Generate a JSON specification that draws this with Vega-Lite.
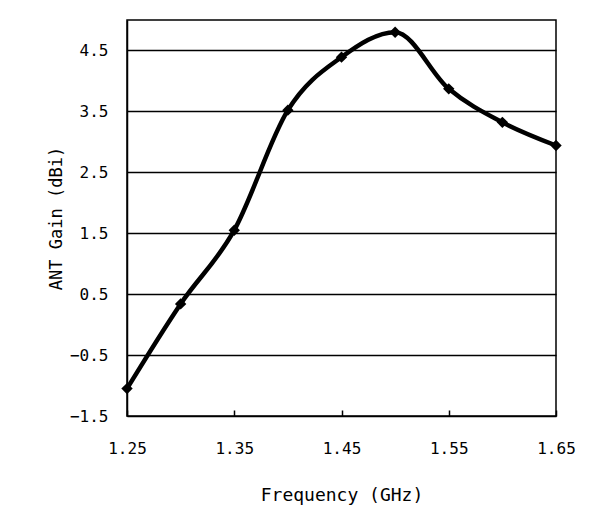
{
  "$schema": "https://vega.github.io/schema/vega-lite/v6.json",
  "autosize": "none",
  "width": 429,
  "height": 396,
  "padding": {"left": 127, "top": 20, "right": 50, "bottom": 103},
  "background": "white",
  "config": {
    "view": {"stroke": "black", "strokeWidth": 1.5},
    "axis": {
      "labelFont": "DejaVu Sans Mono",
      "titleFont": "DejaVu Sans Mono",
      "labelColor": "black",
      "titleColor": "black",
      "titleFontWeight": "normal",
      "domainColor": "black",
      "domainWidth": 1.5
    }
  },
  "data": {
    "values": [
      {"freq": 1.25, "gain": -1.05},
      {"freq": 1.30, "gain": 0.34},
      {"freq": 1.35, "gain": 1.55},
      {"freq": 1.40, "gain": 3.52},
      {"freq": 1.45, "gain": 4.39},
      {"freq": 1.50, "gain": 4.80},
      {"freq": 1.55, "gain": 3.87},
      {"freq": 1.60, "gain": 3.32},
      {"freq": 1.65, "gain": 2.94}
    ]
  },
  "mark": {
    "type": "line",
    "color": "black",
    "strokeWidth": 4.5,
    "interpolate": "monotone",
    "point": {"shape": "diamond", "filled": true, "size": 130, "color": "black"}
  },
  "encoding": {
    "x": {
      "field": "freq",
      "type": "quantitative",
      "scale": {"domain": [1.25, 1.65], "nice": false, "zero": false},
      "axis": {
        "title": "Frequency (GHz)",
        "values": [1.25, 1.35, 1.45, 1.55, 1.65],
        "format": ".2f",
        "grid": false,
        "domain": false,
        "offset": -6,
        "ticks": true,
        "tickSize": 6,
        "tickColor": "black",
        "tickWidth": 1.5,
        "labelFontSize": 16,
        "labelPadding": 24,
        "labelFlush": false,
        "titleFontSize": 18,
        "titlePadding": 30
      }
    },
    "y": {
      "field": "gain",
      "type": "quantitative",
      "scale": {"domain": [-1.5, 5.0], "nice": false, "zero": false},
      "axis": {
        "title": "ANT Gain (dBi)",
        "values": [-1.5, -0.5, 0.5, 1.5, 2.5, 3.5, 4.5],
        "format": ".1f",
        "grid": true,
        "gridColor": "black",
        "gridWidth": 1.3,
        "gridOpacity": 1,
        "ticks": false,
        "labelFontSize": 16,
        "labelPadding": 19,
        "labelFlush": false,
        "titleFontSize": 17,
        "titlePadding": 4
      }
    }
  }
}
